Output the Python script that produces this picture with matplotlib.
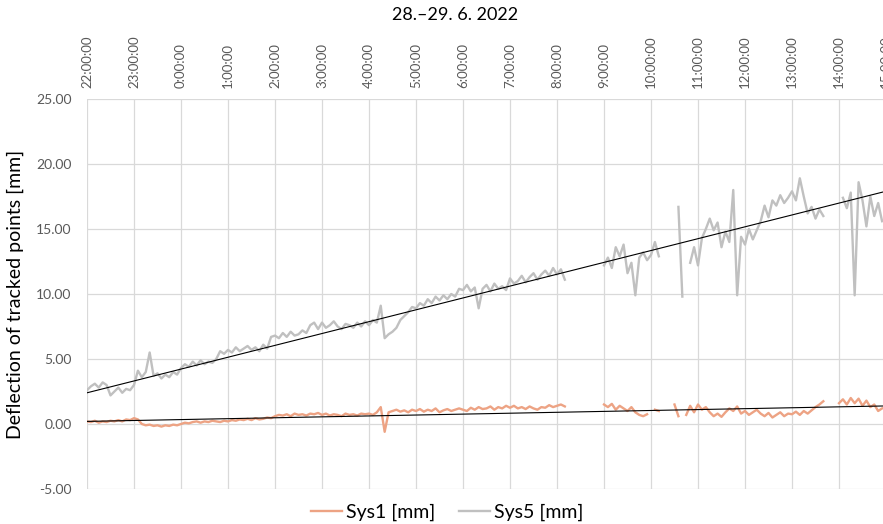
"""
    deflection of tracked points, 28.-29. 6. 2022
"""

import numpy
from matplotlib import pyplot as plt

nan = numpy.nan

# sample every 5 minutes, hours counted from 22:00
step_h = 1.0 / 12.0

sys5 = [
    2.6, 2.9, 3.1, 2.8, 3.2, 3.0, 2.2, 2.5, 2.8, 2.4, 2.7, 2.6,
    3.0, 4.1, 3.6, 4.0, 5.5, 3.7, 3.9, 3.5, 3.8, 3.6, 4.0, 3.8,
    4.3, 4.6, 4.4, 4.8, 4.5, 4.9, 4.6, 4.8, 4.7, 5.0, 5.6, 5.4,
    5.7, 5.5, 5.9, 5.6, 5.8, 6.0, 5.7, 5.9, 5.6, 6.1, 5.8, 6.7,
    6.8, 6.6, 7.0, 6.7, 7.1, 6.8, 6.9, 7.2, 7.0, 7.6, 7.8, 7.3,
    7.8, 7.4, 7.6, 7.9, 7.5, 7.3, 7.7, 7.6, 7.4, 7.8, 7.5, 7.9,
    7.6, 8.0, 7.8, 9.1, 6.6, 6.9, 7.1, 7.4, 8.0, 8.3, 8.6, 9.0,
    8.9, 9.3, 9.1, 9.6, 9.3, 9.8, 9.5, 9.9, 9.6, 10.0, 9.8, 10.4,
    10.3, 10.7, 10.2, 10.5, 8.9, 10.4, 10.7, 10.2, 10.8, 10.4, 10.6, 10.3,
    11.2, 10.8, 11.0, 11.4, 10.9, 11.3, 11.6, 11.1, 11.5, 11.8, 11.4, 12.0,
    11.5, 11.9, 11.1, nan, nan, nan, nan, nan, nan, nan, nan, nan,
    12.2, 12.8, 12.0, 13.6, 12.9, 13.8, 11.6, 12.4, 9.9, 12.8, 13.2, 12.6,
    13.0, 14.0, 12.9, nan, nan, nan, nan, 16.7, 9.8, nan, 12.4, 13.6,
    12.2, 14.3, 15.0, 15.8, 14.9, 15.5, 13.6, 14.8, 14.0, 18.0, 9.9, 14.4,
    13.8, 15.0, 14.2, 14.9, 15.6, 16.8, 15.9, 17.2, 16.8, 17.6, 17.0, 17.4,
    17.9, 17.2, 18.9, 17.5, 16.2, 16.7, 15.8, 16.5, 16.0, nan, nan, nan,
    nan, 17.4, 16.6, 17.8, 9.9, 18.6, 17.2, 15.2, 17.5, 16.0, 17.0, 15.6,
]

sys1 = [
    0.2, 0.15, 0.25, 0.1, 0.2, 0.15, 0.25, 0.2, 0.3, 0.2, 0.35, 0.3,
    0.45, 0.35, 0.0, -0.1, -0.05, -0.15, -0.1, -0.2, -0.1, -0.15, -0.05, -0.1,
    0.0, 0.1, 0.05, 0.15, 0.2, 0.1, 0.2, 0.15, 0.25, 0.2, 0.15, 0.25,
    0.2, 0.3, 0.25, 0.35, 0.3, 0.4, 0.3, 0.45, 0.35, 0.4, 0.5, 0.45,
    0.6, 0.7, 0.65, 0.75, 0.6, 0.8, 0.7, 0.75, 0.65, 0.8, 0.75, 0.85,
    0.7, 0.8, 0.65, 0.75, 0.7, 0.6, 0.8, 0.7, 0.75, 0.65, 0.8, 0.75,
    0.8, 0.7, 0.9, 1.3, -0.6, 0.9, 1.0, 1.1, 0.95, 1.05, 0.9, 1.1,
    1.0, 1.15, 0.95, 1.1, 1.0, 1.2, 0.9, 1.05, 1.15, 1.0, 1.1, 1.2,
    1.1, 1.0, 1.25, 1.1, 1.3, 1.15, 1.2, 1.35, 1.1, 1.3, 1.2, 1.4,
    1.25, 1.4, 1.2, 1.3, 1.15, 1.35, 1.2, 1.1, 1.3, 1.25, 1.45, 1.3,
    1.4, 1.5, 1.35, nan, nan, nan, nan, nan, nan, nan, nan, nan,
    1.5, 1.3, 1.55, 1.1, 1.4, 1.2, 1.0, 1.3, 0.9, 0.7, 0.6, 0.75,
    nan, 1.1, 1.0, nan, nan, nan, 1.5, 0.6, nan, 0.7, 1.4, 0.9,
    1.5, 1.1, 1.3, 0.9, 0.6, 0.8, 0.55, 0.9, 1.2, 1.0, 1.35, 0.8,
    1.0, 0.7, 0.9, 1.1, 0.8, 0.6, 0.85, 0.5, 0.7, 0.9, 0.6, 0.8,
    0.75, 0.95, 0.7, 1.0, 0.8, 1.05, 1.3, 1.5, 1.75, nan, nan, nan,
    1.6, 1.9, 1.5, 2.0, 1.6, 1.95, 1.4, 1.8, 1.3, 1.5, 1.0, 1.2,
]

# linear trendlines as drawn in the chart: [value at 22:00, slope per hour]
sys5_trend = [2.4, 0.912]
sys1_trend = [0.2, 0.07]

hour_ticks = list(range(0, 18))
hour_labels = [f"{(22 + hh) % 24}:00:00" for hh in hour_ticks]

y_ticks = [-5, 0, 5, 10, 15, 20, 25]

title = "28.\u201329. 6. 2022"
ylabel = "Deflection of tracked points [mm]"

col_sys1 = "#EDA384"
col_sys5 = "#C0C0C0"
col_grid = "#D9D9D9"
col_text = "#595959"


def main():
    plt.rcParams['font.family'] = ['Lato', 'DejaVu Sans']

    tt = numpy.arange(len(sys5)) * step_h

    fig = plt.figure(figsize=(8.83, 5.24), dpi=100)
    ax = fig.add_axes([87 / 883, 35 / 524, 799 / 883, 390 / 524])

    ax.plot(tt, sys5, color=col_sys5, lw=1.7, label="Sys5 [mm]", zorder=3)
    ax.plot(tt, sys1, color=col_sys1, lw=1.7, label="Sys1 [mm]", zorder=3)

    tx = numpy.array([0.0, 17.0])
    ax.plot(tx, sys5_trend[0] + sys5_trend[1] * tx, color="black", lw=0.8, zorder=4)
    ax.plot(tx, sys1_trend[0] + sys1_trend[1] * tx, color="black", lw=0.8, zorder=4)

    ax.set_xlim(0, 17)
    ax.set_ylim(-5, 25)
    ax.set_xticks(hour_ticks)
    ax.set_xticklabels(hour_labels, rotation=90, fontsize=9.5, color=col_text)
    ax.xaxis.tick_top()
    ax.set_yticks(y_ticks)
    ax.set_yticklabels([f"{v:.2f}" for v in y_ticks], fontsize=10, color=col_text)
    ax.tick_params(length=0, pad=11)
    ax.tick_params(axis="x", pad=8)

    ax.grid(True, color=col_grid, lw=0.9, zorder=0)
    for sp in ax.spines.values():
        sp.set_visible(False)

    ax.set_ylabel(ylabel, fontsize=14, color="black", labelpad=9)
    fig.text(455 / 883, 1 - 15 / 524, title, ha="center", va="center", fontsize=13)

    hh, ll = ax.get_legend_handles_labels()
    fig.legend([hh[1], hh[0]], [ll[1], ll[0]], loc="center", bbox_to_anchor=(447 / 883, 1 - 512 / 524),
               ncol=2, frameon=False, fontsize=14, handlelength=1.6, handletextpad=0.2, columnspacing=1.2)

    fig.savefig("out.png", dpi=100)


if __name__ == '__main__':
    main()
